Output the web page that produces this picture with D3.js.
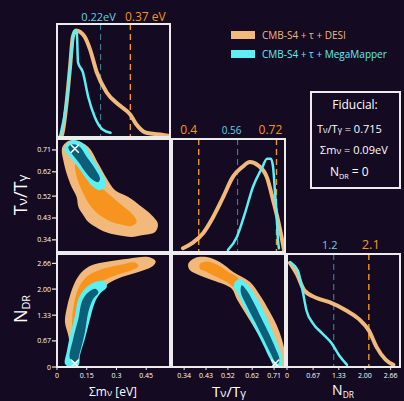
<!DOCTYPE html>
<html>
<head>
<meta charset="utf-8">
<script src="https://cdn.jsdelivr.net/npm/d3@7"></script>
<style>
  html, body { margin: 0; padding: 0; background: #140a22; }
  svg { display: block; }
  text { font-family: "Open Sans", sans-serif; fill: #fff; }
</style>
</head>
<body>
<div id="corner"></div>
<script>
/*********************************************
** corner plot: Tnu/Tgamma, sum m_nu, N_DR
** CMB-S4 + tau + DESI  vs  CMB-S4 + tau + MegaMapper
**********************************************/

// axis ranges and ticks
var sumDomain  = [0, 0.57];
var tempDomain = [0.29, 0.755];
var ndrDomain  = [0, 2.9];

var sumTicks  = [0, 0.15, 0.3, 0.45];
var sumLabels = ["0", "0.15", "0.3", "0.45"];
var tempTicks  = [0.34, 0.43, 0.52, 0.62, 0.71];
var tempLabels = ["0.34", "0.43", "0.52", "0.62", "0.71"];
var ndrTicks  = [0, 0.67, 1.33, 2.0, 2.66];
var ndrLabels = ["0", "0.67", "1.33", "2.00", "2.66"];

// 1D posteriors [value, relative density]
var sumDesi = [[0.015,0],[0.025,0.02],[0.05,0.35],[0.066,0.66],[0.08,0.94],[0.096,1.0],
  [0.14,0.94],[0.167,0.82],[0.2,0.61],[0.25,0.42],[0.32,0.29],[0.37,0.21],[0.4,0.12],
  [0.45,0.04],[0.535,0.02],[0.57,0.01]];
var sumMega = [[0.015,0],[0.05,0.35],[0.076,0.85],[0.086,0.99],[0.096,1.0],[0.1,0.98],
  [0.106,0.7],[0.13,0.61],[0.157,0.38],[0.19,0.19],[0.23,0.07],[0.27,0.04]];

var tempDesi = [[0.335,0.04],[0.376,0.1],[0.418,0.2],[0.459,0.37],[0.5,0.58],[0.541,0.8],
  [0.578,0.9],[0.611,0.955],[0.644,0.92],[0.681,0.79],[0.706,0.55],[0.726,0.34],
  [0.743,0.13],[0.751,0.02]];
var tempMega = [[0.52,0.02],[0.557,0.16],[0.59,0.41],[0.623,0.69],[0.66,0.89],[0.681,0.99],
  [0.697,0.99],[0.706,0.9],[0.714,0.63],[0.722,0.34],[0.726,0.13],[0.73,0.04]];

var ndrDesi = [[0.076,0.995],[0.25,0.89],[0.45,0.73],[0.76,0.66],[1.09,0.62],[1.52,0.54],
  [1.84,0.46],[2.1,0.35],[2.3,0.19],[2.53,0.07],[2.73,0.02]];
var ndrMega = [[0.076,1.0],[0.28,0.92],[0.4,0.73],[0.5,0.54],[0.66,0.42],[0.91,0.32],
  [1.14,0.23],[1.34,0.11],[1.54,0.02]];

// 95% upper / lower limits
var sumLimits  = [0.22, 0.37];
var tempLimits = [0.4, 0.56, 0.72];
var ndrLimits  = [1.2, 2.1];

// 2D contours: [x, y] outlines, outer = 95%, inner = 68%
var sumTempDesiOuter = [[0.032,0.729],[0.057,0.747],[0.091,0.75],[0.158,0.722],[0.209,0.653],
  [0.251,0.592],[0.293,0.544],[0.36,0.516],[0.428,0.475],[0.478,0.441],[0.509,0.406],
  [0.495,0.372],[0.428,0.359],[0.377,0.352],[0.31,0.359],[0.259,0.368],[0.209,0.386],
  [0.158,0.413],[0.133,0.441],[0.108,0.475],[0.099,0.516],[0.074,0.557],[0.049,0.612],
  [0.032,0.667],[0.024,0.709]];
var sumTempDesiInner = [[0.094,0.653],[0.141,0.612],[0.2,0.571],[0.259,0.53],[0.327,0.482],
  [0.385,0.441],[0.402,0.413],[0.377,0.397],[0.318,0.404],[0.259,0.42],[0.209,0.445],
  [0.167,0.482],[0.138,0.523],[0.111,0.571],[0.094,0.619]];
var sumTempMegaOuter = [[0.04,0.722],[0.066,0.747],[0.108,0.747],[0.141,0.729],[0.175,0.681],
  [0.217,0.626],[0.242,0.585],[0.242,0.557],[0.217,0.544],[0.183,0.557],[0.141,0.599],
  [0.099,0.647],[0.057,0.688],[0.037,0.711]];
var sumTempMegaInner = [[0.057,0.722],[0.082,0.733],[0.116,0.722],[0.15,0.681],[0.192,0.633],
  [0.217,0.592],[0.209,0.578],[0.183,0.585],[0.15,0.612],[0.108,0.66],[0.074,0.695]];

var sumNdrDesiOuter = [[0.049,0.085],[0.066,0.47],[0.057,0.81],[0.04,1.155],[0.049,1.5],
  [0.066,1.84],[0.091,2.18],[0.125,2.44],[0.175,2.61],[0.259,2.71],[0.36,2.78],[0.461,2.82],
  [0.498,2.71],[0.478,2.57],[0.411,2.44],[0.327,2.31],[0.259,2.14],[0.226,1.97],
  [0.183,1.67],[0.158,1.24],[0.133,0.73],[0.108,0.3],[0.082,0.04]];
var sumNdrDesiInner = [[0.082,0.73],[0.077,1.24],[0.091,1.75],[0.116,2.1],[0.158,2.35],
  [0.226,2.51],[0.31,2.61],[0.394,2.68],[0.411,2.59],[0.377,2.48],[0.293,2.35],[0.226,2.2],
  [0.175,2.01],[0.141,1.67],[0.116,1.155],[0.099,0.73]];
var sumNdrMegaOuter = [[0.04,0.085],[0.049,0.385],[0.066,0.81],[0.091,1.33],[0.108,1.75],
  [0.141,2.01],[0.192,2.18],[0.242,2.2],[0.251,2.05],[0.217,1.88],[0.192,1.67],[0.167,1.24],
  [0.141,0.73],[0.116,0.3],[0.108,0.04],[0.066,0.0]];
var sumNdrMegaInner = [[0.066,0.21],[0.082,0.73],[0.108,1.24],[0.125,1.67],[0.15,1.88],
  [0.192,2.01],[0.209,1.92],[0.183,1.75],[0.158,1.41],[0.141,0.9],[0.116,0.385],[0.099,0.13]];

var tempNdrDesiOuter = [[0.357,2.65],[0.385,2.8],[0.433,2.82],[0.488,2.69],[0.542,2.44],
  [0.611,2.18],[0.652,1.84],[0.693,1.41],[0.721,1.07],[0.741,0.73],[0.755,0.385],
  [0.762,0.085],[0.727,0.0],[0.7,0.21],[0.68,0.47],[0.639,0.9],[0.597,1.33],[0.556,1.75],
  [0.536,2.01],[0.46,2.22],[0.405,2.35],[0.364,2.48]];
var tempNdrDesiInner = [[0.405,2.65],[0.433,2.71],[0.474,2.63],[0.522,2.44],[0.563,2.27],
  [0.549,2.05],[0.515,2.18],[0.474,2.31],[0.433,2.44],[0.405,2.52]];
var tempNdrMegaOuter = [[0.549,2.18],[0.57,2.25],[0.597,2.14],[0.632,1.84],[0.666,1.455],
  [0.693,1.07],[0.721,0.64],[0.741,0.3],[0.741,0.04],[0.714,0.0],[0.693,0.21],[0.666,0.56],
  [0.632,0.98],[0.597,1.41],[0.563,1.84],[0.545,2.05]];
var tempNdrMegaInner = [[0.577,2.1],[0.597,1.97],[0.625,1.67],[0.659,1.24],[0.686,0.9],
  [0.714,0.51],[0.732,0.21],[0.727,0.085],[0.714,0.13],[0.693,0.385],[0.666,0.73],
  [0.632,1.155],[0.597,1.58],[0.573,1.92]];

// fiducial values (x markers)
var fiducialSum  = 0.09;
var fiducialTemp = 0.715;
var fiducialNdr  = 0.09;

var legendNames = ["CMB-S4 + \u03c4 + DESI", "CMB-S4 + \u03c4 + MegaMapper"];

/*********************************************
** layout
**********************************************/
var colX = [57, 172, 287];
var rowY = [24, 139, 254];
var cell = 113;

var col = {
  desiLight: "#f1b97b",
  desiDark:  "#f7941d",
  megaLight: "#5cf0f5",
  megaDark:  "#0b5f78",
  cyanLabel: "#66d3e3",
  cyanDash:  "#3d8fa3",
  border:    "#ececec"
};

var svg = d3.select("#corner")
  .append("svg")
  .attr("width", 404)
  .attr("height", 401);

svg.append("rect")
  .attr("width", 404).attr("height", 401)
  .attr("fill", "#140a22");

var defs = svg.append("defs");

/**
* makePanel
* [creates a clipped group for one cell of the corner plot]
* @param {int} c [column index]
* @param {int} r [row index]
* @return {g} [the clipped group]
**/
function makePanel(c, r){
  var id = "clip" + c + r;
  defs.append("clipPath").attr("id", id)
    .append("rect")
    .attr("x", colX[c]).attr("y", rowY[r])
    .attr("width", cell).attr("height", cell);
  return svg.append("g").attr("clip-path", "url(#" + id + ")");
}

function xScaleFor(domain, c){
  return d3.scaleLinear().domain(domain).range([colX[c], colX[c] + cell]);
}
function yScaleFor(domain, r){
  return d3.scaleLinear().domain(domain).range([rowY[r] + cell, rowY[r]]);
}

/**
* plot1d
* [draws two marginal posteriors and their dashed limits]
**/
function plot1d(c, domain, peakTop, desi, mega, limits, limitColors, labelDx, labelY, labelSizes){
  var g = makePanel(c, c);
  var x = xScaleFor(domain, c);
  var y = d3.scaleLinear().domain([0, peakTop]).range([rowY[c] + cell, rowY[c]]);

  g.selectAll(".limit")
    .data(limits)
    .enter()
    .append("line")
    .attr("x1", function(d){ return x(d); })
    .attr("x2", function(d){ return x(d); })
    .attr("y1", rowY[c]).attr("y2", rowY[c] + cell)
    .attr("stroke", function(d, i){ return limitColors[i] == "o" ? col.desiDark : col.cyanDash; })
    .attr("stroke-width", function(d, i){ return limitColors[i] == "o" ? 1.4 : 1; })
    .attr("stroke-dasharray", "6,4");

  var line = d3.line()
    .x(function(d){ return x(d[0]); })
    .y(function(d){ return y(d[1]); })
    .curve(d3.curveMonotoneX);

  g.append("path").attr("d", line(desi))
    .attr("fill", "none").attr("stroke", col.desiLight)
    .attr("stroke-width", 4).attr("stroke-linecap", "round");
  g.append("path").attr("d", line(mega))
    .attr("fill", "none").attr("stroke", col.megaLight)
    .attr("stroke-width", 2.5).attr("stroke-linecap", "round");

  svg.selectAll(".lim" + c)
    .data(limits)
    .enter()
    .append("text")
    .attr("x", function(d, i){ return x(d) + labelDx[i]; })
    .attr("y", labelY)
    .attr("text-anchor", "middle")
    .style("font-size", function(d, i){ return labelSizes[i] + "px"; })
    .style("fill", function(d, i){ return limitColors[i] == "o" ? col.desiDark : col.cyanLabel; })
    .text(function(d, i){
      if (c == 0) return i == 0 ? d + "eV" : d + " eV";
      return d;
    });
}

/**
* plot2d
* [draws the filled 68/95 regions of both data sets]
**/
function plot2d(c, r, xDomain, yDomain, shapes, marker){
  var g = makePanel(c, r);
  var x = xScaleFor(xDomain, c);
  var y = yScaleFor(yDomain, r);
  var area = d3.line()
    .x(function(d){ return x(d[0]); })
    .y(function(d){ return y(d[1]); })
    .curve(d3.curveCatmullRomClosed.alpha(0.5));
  var fills = [col.desiLight, col.desiDark, col.megaLight, col.megaDark];

  g.selectAll(".contour")
    .data(shapes)
    .enter()
    .append("path")
    .attr("d", function(d){ return area(d); })
    .attr("fill", function(d, i){ return fills[i]; });

  var mx = x(marker[0]), my = y(marker[1]);
  g.append("path")
    .attr("d", "M" + (mx-3.5) + "," + (my-3.5) + "L" + (mx+3.5) + "," + (my+3.5)
             + "M" + (mx+3.5) + "," + (my-3.5) + "L" + (mx-3.5) + "," + (my+3.5))
    .attr("stroke", "#fff").attr("stroke-width", 1.6).attr("stroke-linecap", "round");
}

// marginals
plot1d(0, sumDomain, 1.06, sumDesi, sumMega, sumLimits, ["c", "o"], [-2, 15], 21, [11, 12]);
plot1d(1, tempDomain, 1.2, tempDesi, tempMega, tempLimits, ["o", "c", "o"], [-10, -6, -6], 134, [12, 10, 12]);
plot1d(2, ndrDomain, 1.08, ndrDesi, ndrMega, ndrLimits, ["c", "o"], [-4, 2], 249, [11, 13]);

// joint posteriors
plot2d(0, 1, sumDomain, tempDomain,
  [sumTempDesiOuter, sumTempDesiInner, sumTempMegaOuter, sumTempMegaInner],
  [fiducialSum, fiducialTemp]);
plot2d(0, 2, sumDomain, ndrDomain,
  [sumNdrDesiOuter, sumNdrDesiInner, sumNdrMegaOuter, sumNdrMegaInner],
  [fiducialSum, fiducialNdr]);
plot2d(1, 2, tempDomain, ndrDomain,
  [tempNdrDesiOuter, tempNdrDesiInner, tempNdrMegaOuter, tempNdrMegaInner],
  [fiducialTemp, fiducialNdr]);

// panel borders
var cells = [[0,0],[0,1],[1,1],[0,2],[1,2],[2,2]];
svg.selectAll(".cell")
  .data(cells)
  .enter()
  .append("rect")
  .attr("x", function(d){ return colX[d[0]]; })
  .attr("y", function(d){ return rowY[d[1]]; })
  .attr("width", cell).attr("height", cell)
  .attr("fill", "none").attr("stroke", col.border).attr("stroke-width", 2);

/**
* drawTicks
* [tick marks and labels along the bottom row or left column]
**/
function drawTicks(scale, ticks, labels, isX){
  var g = svg.append("g").style("font-size", "7px");
  ticks.forEach(function(t, i){
    var p = scale(t);
    if (isX){
      g.append("line").attr("x1", p).attr("x2", p)
        .attr("y1", rowY[2] + cell).attr("y2", rowY[2] + cell + 3)
        .attr("stroke", col.border).attr("stroke-width", 1);
      g.append("text").attr("x", p).attr("y", rowY[2] + cell + 11)
        .attr("text-anchor", "middle").text(labels[i]);
    }else{
      g.append("line").attr("x1", colX[0] - 5).attr("x2", colX[0] - 1)
        .attr("y1", p).attr("y2", p)
        .attr("stroke", col.border).attr("stroke-width", 1.2);
      g.append("text").attr("x", colX[0] - 6).attr("y", p + 2.5)
        .attr("text-anchor", "end").text(labels[i]);
    }
  });
}

drawTicks(xScaleFor(sumDomain, 0), sumTicks, sumLabels, true);
drawTicks(xScaleFor(tempDomain, 1), tempTicks, tempLabels, true);
drawTicks(xScaleFor(ndrDomain, 2), ndrTicks, ndrLabels, true);
drawTicks(yScaleFor(tempDomain, 1), tempTicks, tempLabels, false);
drawTicks(yScaleFor(ndrDomain, 2), ndrTicks, ndrLabels, false);

// axis titles
function tempTitle(sel){
  sel.append("tspan").text("T");
  sel.append("tspan").text("\u03bd").attr("font-size", "75%");
  sel.append("tspan").text("/T");
  sel.append("tspan").text("\u03b3").attr("font-size", "75%");
}
function ndrTitle(sel){
  sel.append("tspan").text("N");
  sel.append("tspan").text("DR").attr("font-size", "60%").attr("dy", 3);
}

svg.append("text").attr("transform", "translate(27,195) rotate(-90)")
  .attr("text-anchor", "middle").style("font-size", "18px").call(tempTitle);
svg.append("text").attr("transform", "translate(27,309) rotate(-90)")
  .attr("text-anchor", "middle").style("font-size", "18px").call(ndrTitle);

var sumTitle = svg.append("text").attr("x", 113).attr("y", 396)
  .attr("text-anchor", "middle").style("font-size", "12px");
sumTitle.append("tspan").text("\u03a3m");
sumTitle.append("tspan").text("\u03bd").attr("font-size", "80%");
sumTitle.append("tspan").text(" [eV]");

svg.append("text").attr("x", 229).attr("y", 397)
  .attr("text-anchor", "middle").style("font-size", "15px").call(tempTitle);
svg.append("text").attr("x", 343).attr("y", 395)
  .attr("text-anchor", "middle").style("font-size", "14px").call(ndrTitle);

// legend
var legend = svg.append("g");
[col.desiLight, col.megaLight].forEach(function(c, i){
  legend.append("rect").attr("x", 231).attr("y", 31 + i * 19)
    .attr("width", 24).attr("height", 8).attr("fill", c);
  legend.append("text").attr("x", 262).attr("y", 39 + i * 19)
    .style("font-size", "10px").style("fill", c).text(legendNames[i]);
});

// fiducial box
svg.append("rect").attr("x", 311).attr("y", 92).attr("width", 89).attr("height", 96)
  .attr("fill", "none").attr("stroke", col.border).attr("stroke-width", 2);
svg.append("text").attr("x", 355).attr("y", 109).attr("text-anchor", "middle")
  .style("font-size", "12px").text("Fiducial:");

var f1 = svg.append("text").attr("x", 317).attr("y", 133).style("font-size", "11px");
f1.call(tempTitle);
f1.append("tspan").text(" = " + fiducialTemp);

var f2 = svg.append("text").attr("x", 320).attr("y", 154).style("font-size", "11px");
f2.append("tspan").text("\u03a3m");
f2.append("tspan").text("\u03bd").attr("font-size", "80%");
f2.append("tspan").text(" = " + fiducialSum + "eV");

var f3 = svg.append("text").attr("x", 330).attr("y", 176).style("font-size", "12px");
f3.call(ndrTitle);
f3.append("tspan").text(" = 0").attr("dy", -3);
</script>
</body>
</html>
